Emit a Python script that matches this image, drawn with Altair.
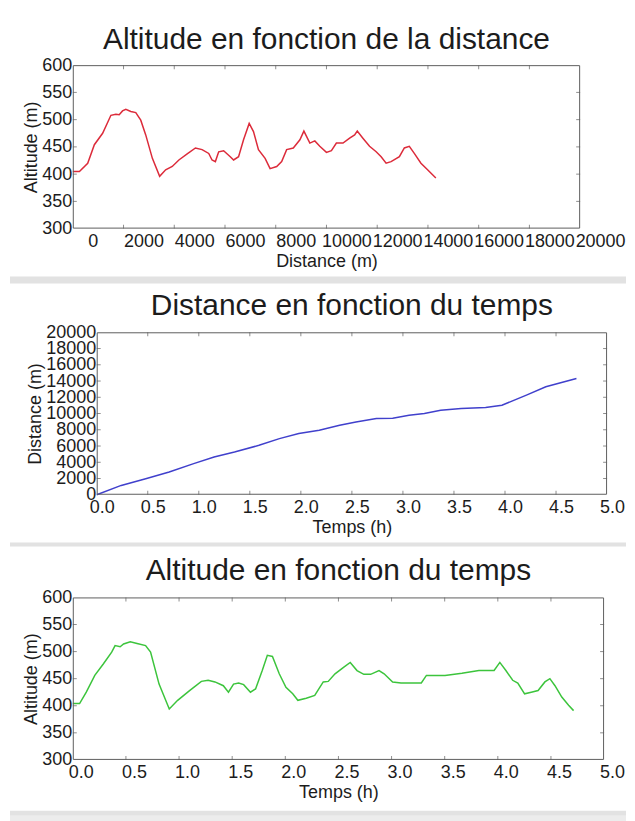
import altair as alt
import pandas as pd

# ---------------- data ----------------
# Panel 1: altitude vs distance
dist_m = [0, 261, 588, 850, 1176, 1503, 1699, 1830, 1960, 2091, 2287, 2483, 2679, 2875,
          3137, 3424, 3660, 3921, 4182, 4509, 4836, 5097, 5359, 5489, 5620, 5751, 5947,
          6208, 6339, 6535, 6731, 6953, 7123, 7319, 7581, 7777, 8038, 8234, 8430, 8692,
          8953, 9110, 9345, 9541, 9737, 9999, 10195, 10391, 10652, 10913, 11110, 11214,
          11436, 11698, 11959, 12155, 12351, 12547, 12874, 13070, 13266, 13462, 13724,
          13985, 14312]
alt_by_dist = [405, 405, 420, 454, 475, 508, 510, 509, 516, 519, 515, 513, 499, 472,
               429, 396, 408, 414, 426, 437, 448, 445, 438, 426, 423, 441, 443,
               432, 426, 432, 463, 493, 478, 445, 429, 410, 414, 423, 445, 448,
               463, 479, 457, 461, 451, 440, 443, 457, 457, 466, 472, 479,
               466, 451, 441, 432, 420, 423, 432, 448, 451, 438, 420,
               408, 393]

# Panel 2: distance vs time
time_d_h = [0.0, 0.24, 0.48, 0.71, 0.95, 1.15, 1.35, 1.59, 1.79, 1.98, 2.18, 2.38, 2.54,
            2.74, 2.90, 3.06, 3.21, 3.37, 3.57, 3.81, 3.97, 4.21, 4.40, 4.70]
dist_by_time = [0, 1150, 1980, 2800, 3830, 4650, 5270, 6090, 6910, 7530, 7940, 8560, 8970,
                9380, 9420, 9790, 10000, 10410, 10620, 10740, 11030, 12260, 13290, 14320]

# Panel 3: altitude vs time
time_a_h = [0.0, 0.064, 0.127, 0.207, 0.287, 0.366, 0.398, 0.446, 0.478, 0.541, 0.605,
            0.685, 0.732, 0.812, 0.908, 0.987, 1.099, 1.210, 1.274, 1.338, 1.417, 1.465,
            1.513, 1.561, 1.608, 1.672, 1.720, 1.783, 1.831, 1.879, 1.943, 2.006, 2.070,
            2.118, 2.197, 2.277, 2.357, 2.404, 2.468, 2.548, 2.611, 2.675, 2.739, 2.803,
            2.882, 2.930, 3.010, 3.089, 3.280, 3.328, 3.503, 3.662, 3.822, 3.965, 4.019,
            4.076, 4.140, 4.188, 4.252, 4.315, 4.379, 4.443, 4.490, 4.538, 4.602, 4.666,
            4.713]
alt_by_time = [404, 404, 425, 456, 477, 499, 511, 509, 514, 518, 515,
               511, 499, 440, 394, 410, 428, 445, 447, 444, 437, 425,
               440, 442, 439, 425, 431, 465, 493, 491, 459, 434, 422,
               410, 414, 419, 444, 445, 459, 471, 480, 465, 458, 458,
               465, 459, 444, 442, 442, 456, 456, 460, 465, 465, 480,
               465, 447, 442, 422, 425, 428, 444, 450, 437, 416, 401,
               391]

# tick values
dist_ticks = list(range(0, 20001, 2000))
alt_ticks = list(range(300, 601, 50))
time_ticks = [0.0, 0.5, 1.0, 1.5, 2.0, 2.5, 3.0, 3.5, 4.0, 4.5, 5.0]

titles = ["Altitude en fonction de la distance",
          "Distance en fonction du temps",
          "Altitude en fonction du temps"]
status_text = "Position du curseur : (4.8783.393, 386.473)"

# ---------------- styling ----------------
FONT = "Liberation Sans"
TXT = "#1c1c1c"
FRAME = "#5e5e5e"
BAND = "#e2e2e2"
STATUS = "#ececec"
RED = "#dc2b3a"
BLUE = "#4040cc"
GREEN = "#3cc43c"
TICK = 4

LEFT, RIGHT = -63, 555   # panel background extents relative to the shared plot origin

ONE = alt.Data(values=[{}])


def deco(x1, x2, y1, y2, color, opacity=1.0):
    return alt.Chart(ONE).mark_rect(color=color, opacity=opacity).encode(
        x=alt.value(x1), x2=alt.value(x2), y=alt.value(y1), y2=alt.value(y2))


def frame(x1, x2, h):
    return alt.Chart(ONE).mark_rect(
        fillOpacity=0, stroke=FRAME, strokeWidth=1).encode(
        x=alt.value(x1 + 0.5), x2=alt.value(x2 - 0.5), y=alt.value(0.5), y2=alt.value(h - 0.5))


def title_text(text, cx, base):
    return alt.Chart(alt.Data(values=[{"t": text}])).mark_text(
        align="center", baseline="alphabetic", font=FONT, fontSize=30, color=TXT
    ).encode(text="t:N", x=alt.value(cx), y=alt.value(base))


def panel(df, xf, yf, xdom, ydom, xt, yt, xfmt, yfmt, xtitle, ytitle, color,
          W, H, x0, dx, top, band, title, base, extra=()):
    xs = alt.Scale(domain=xdom, nice=False, range=[x0, W])
    ys = alt.Scale(domain=ydom, nice=False)
    xa = alt.Axis(values=xt, format=xfmt, title=xtitle, labelOffset=dx)
    ya = alt.Axis(values=yt, format=yfmt, title=ytitle, offset=-x0)
    X = lambda f: alt.X(f, scale=xs, axis=xa)
    Y = lambda f: alt.Y(f, scale=ys, axis=ya)
    line = alt.Chart(df).mark_line(color=color, strokeWidth=1.5).encode(
        x=X(xf + ":Q"), y=Y(yf + ":Q"))
    txd = pd.DataFrame({xf: xt[1:-1]})
    tyd = pd.DataFrame({yf: yt[1:-1]})
    tk = dict(color=FRAME, thickness=1, size=TICK)
    ticks = [
        alt.Chart(txd).mark_tick(orient="vertical", **tk).encode(x=X(xf + ":Q"), y=alt.value(H - TICK / 2)),
        alt.Chart(txd).mark_tick(orient="vertical", **tk).encode(x=X(xf + ":Q"), y=alt.value(TICK / 2)),
        alt.Chart(tyd).mark_tick(orient="horizontal", **tk).encode(y=Y(yf + ":Q"), x=alt.value(x0 + TICK / 2)),
        alt.Chart(tyd).mark_tick(orient="horizontal", **tk).encode(y=Y(yf + ":Q"), x=alt.value(W - TICK / 2)),
    ]
    layers = [deco(LEFT, RIGHT, top, top + 1, "white", 0.0),
              deco(LEFT, RIGHT, H + band[0], H + band[1], BAND)]
    layers += list(extra)
    layers += [line] + ticks + [frame(x0, W, H), title_text(title, (x0 + W) / 2, base)]
    return alt.layer(*layers).properties(width=W, height=H)


df1 = pd.DataFrame({"d": dist_m, "a": alt_by_dist})
df2 = pd.DataFrame({"t": time_d_h, "d": dist_by_time})
df3 = pd.DataFrame({"t": time_a_h, "a": alt_by_time})

# Panel 1
p1 = panel(df1, "d", "a", [0, 20000], [300, 600], dist_ticks, alt_ticks, "d", "d",
           "Distance (m)", "Altitude (m)", RED, 509, 164, 0, 20, -53, (48, 55),
           titles[0], -16)

# Panel 2 (its frame starts 24 px to the right of the shared origin)
p2 = panel(df2, "t", "d", [0, 5], [0, 20000], time_ticks, dist_ticks, ".1f", "d",
           "Temps (h)", "Distance (m)", BLUE, 536, 163, 24, 5, -47, (48, 52),
           titles[1], -17)

# Panel 3 with the status bar below it
H3 = 163
status = alt.Chart(alt.Data(values=[{"s": status_text}])).mark_text(
    align="left", baseline="top", font=FONT, fontSize=13, color="#333333"
).encode(text="s:N", x=alt.value(LEFT + 1), y=alt.value(H3 + 60))
p3 = panel(df3, "t", "a", [0, 5], [300, 600], time_ticks, alt_ticks, ".1f", "d",
           "Temps (h)", "Altitude (m)", GREEN, 533, H3, 0, 8, -49, (51, 56),
           titles[2], -17,
           extra=[deco(LEFT, RIGHT, H3 + 56, H3 + 70, STATUS), status])

chart = alt.vconcat(p1, p2, p3, spacing=0).properties(
    padding={"left": 1, "top": 2, "right": 0, "bottom": 0},
    background="white",
).configure_view(
    stroke="transparent"
).configure_axis(
    domain=False, ticks=False, tickSize=0, grid=False,
    labelFont=FONT, labelFontSize=18, labelColor=TXT,
    titleFont=FONT, titleFontSize=18, titleFontWeight="normal", titleColor=TXT,
    labelOverlap=False, labelFlush=False, labelBound=False,
).configure_axisX(
    labelPadding=4, titlePadding=2,
).configure_axisY(
    labelPadding=1, titlePadding=1,
)

chart.save("out.html", embed_options={"renderer": "svg", "actions": False})
